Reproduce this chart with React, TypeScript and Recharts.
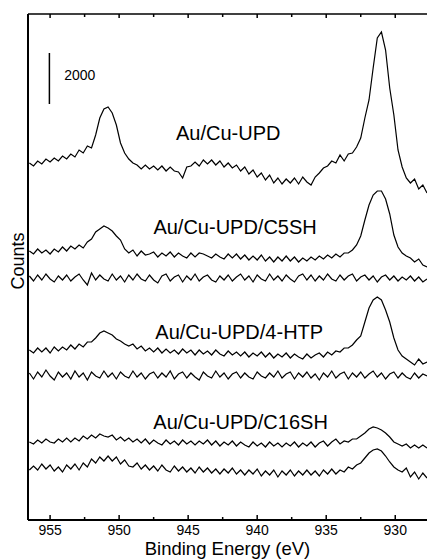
import { LineChart, Line, XAxis, YAxis, ReferenceLine, ReferenceDot, Label } from 'recharts';

// binding energy grid (eV), 0.3 eV steps from 956.5 down to 927.7
const energies = Array.from({ length: 97 }, (_, i) => +(956.5 - 0.3 * i).toFixed(1));

// counts, offset per spectrum (1 unit ~ 39 counts)
const auCuUpd = [
  356, 353, 358, 355, 360, 357, 361, 358, 363, 360,
  365, 362, 369, 366, 373, 371, 384, 401, 410, 412,
  406, 394, 376, 366, 360, 356, 354, 350, 354, 350,
  353, 349, 353, 348, 352, 348, 347, 341, 352, 353,
  357, 353, 359, 355, 359, 354, 358, 352, 356, 351,
  354, 348, 352, 345, 349, 342, 346, 339, 344, 336,
  341, 335, 340, 336, 341, 335, 342, 337, 334, 342,
  346, 351, 353, 358, 356, 364, 358, 365, 366, 372,
  381, 401, 419, 451, 481, 487, 469, 431, 404, 369,
  352, 341, 336, 340, 330, 334, 326,
];
const c5sh = [
  268, 265, 270, 266, 269, 265, 270, 267, 272, 268,
  273, 270, 274, 271, 277, 280, 287, 290, 293, 291,
  288, 283, 279, 270, 266, 269, 263, 268, 264, 265,
  267, 262, 266, 263, 267, 262, 266, 263, 261, 266,
  262, 266, 265, 263, 261, 265, 262, 260, 265, 261,
  265, 260, 264, 259, 263, 259, 264, 258, 262, 257,
  262, 258, 263, 258, 262, 257, 261, 258, 262, 259,
  263, 260, 264, 261, 265, 262, 266, 266, 269, 274,
  283, 299, 314, 324, 328, 328, 320, 305, 284, 272,
  266, 263, 261, 257, 260, 254, 252,
];
const c5shBlank = [
  243, 238, 244, 239, 245, 240, 237, 243, 239, 244,
  238, 242, 245, 239, 234, 246, 239, 244, 240, 238,
  245, 239, 243, 237, 244, 239, 245, 240, 238, 244,
  239, 236, 243, 245, 238, 242, 244, 237, 243, 239,
  245, 238, 242, 244, 239, 237, 243, 239, 244, 238,
  242, 245, 239, 243, 237, 244, 240, 238, 245, 239,
  243, 238, 244, 240, 237, 243, 245, 239, 244, 238,
  243, 239, 245, 240, 238, 244, 239, 243, 245, 238,
  242, 244, 239, 243, 237, 242, 244, 239, 243, 238,
  242, 239, 243, 238, 242, 237, 240,
];
const htp = [
  169, 166, 171, 167, 171, 166, 172, 168, 172, 169,
  174, 170, 175, 172, 177, 177, 181, 186, 188, 186,
  184, 180, 178, 175, 173, 175, 170, 173, 168, 171,
  167, 171, 166, 170, 166, 169, 165, 170, 166, 169,
  164, 169, 165, 168, 164, 169, 165, 163, 168, 164,
  167, 163, 167, 162, 166, 163, 167, 162, 166, 161,
  165, 162, 166, 161, 165, 162, 160, 165, 161, 164,
  166, 162, 167, 164, 168, 167, 171, 171, 174, 179,
  183, 197, 211, 219, 222, 219, 209, 197, 181, 169,
  163, 160, 157, 154, 160, 155, 157,
];
const htpBlank = [
  146, 140, 147, 142, 149, 143, 139, 147, 142, 146,
  140, 148, 142, 146, 139, 147, 143, 141, 148, 142,
  146, 140, 147, 143, 141, 148, 142, 146, 140, 145,
  147, 141, 146, 142, 148, 140, 145, 147, 141, 146,
  142, 139, 147, 143, 141, 148, 142, 146, 140, 145,
  147, 141, 146, 142, 140, 147, 143, 141, 146, 142,
  148, 141, 145, 147, 140, 146, 142, 147, 141, 145,
  139, 146, 142, 148, 141, 145, 147, 140, 146, 142,
  147, 141, 145, 148, 142, 146, 140, 145, 147, 141,
  146, 142, 140, 146, 141, 145, 143,
];
const c16sh = [
  77, 75, 79, 76, 80, 77, 76, 80, 77, 81,
  77, 81, 78, 83, 80, 84, 81, 85, 83, 82,
  84, 79, 82, 78, 81, 77, 80, 76, 80, 75,
  79, 76, 74, 79, 75, 78, 74, 79, 75, 78,
  74, 78, 75, 79, 74, 78, 73, 77, 74, 78,
  73, 77, 74, 72, 77, 73, 76, 72, 77, 73,
  76, 72, 76, 73, 77, 72, 76, 73, 77, 72,
  76, 78, 73, 77, 80, 75, 78, 77, 80, 80,
  83, 86, 90, 92, 91, 89, 86, 82, 77, 75,
  73, 75, 71, 74, 71, 74, 71,
];
const c16shBlank = [
  49, 53, 49, 55, 50, 54, 48, 52, 47, 54,
  50, 55, 49, 56, 52, 60, 56, 62, 58, 63,
  58, 62, 55, 59, 53, 52, 56, 50, 54, 49,
  53, 48, 54, 49, 47, 53, 48, 52, 47, 51,
  46, 52, 47, 51, 46, 50, 45, 50, 46, 51,
  45, 49, 44, 49, 45, 50, 43, 48, 44, 49,
  42, 48, 44, 49, 43, 48, 44, 49, 44, 48,
  43, 49, 45, 50, 45, 49, 47, 52, 50, 54,
  56, 61, 66, 69, 70, 68, 63, 57, 52, 49,
  47, 51, 42, 47, 40, 46, 41,
];

const majorTicks = [955, 950, 945, 940, 935, 930];
const allTicks = [955, 952.5, 950, 947.5, 945, 942.5, 940, 937.5, 935, 932.5, 930];

const series = [auCuUpd, c5sh, c5shBlank, htp, htpBlank, c16sh, c16shBlank];
const data = energies.map((e, i) => {
  const row: Record<string, number> = { e };
  series.forEach((s, k) => { row['s' + k] = s[i]; });
  return row;
});

const font = '"Liberation Sans", Arial, Helvetica, sans-serif';

const BottomTick = (props: any) => {
  const { x, y, payload } = props;
  const major = majorTicks.includes(payload.value);
  return (
    <g>
      <line x1={x} x2={x} y1={y} y2={y - (major ? 5 : 3)} stroke="#000" strokeWidth={1.5} />
      {major && (
        <text x={x} y={y + 15} textAnchor="middle" fontSize={14} fontFamily={font} fill="#000">
          {payload.value}
        </text>
      )}
    </g>
  );
};

const TopTick = (props: any) => {
  const { x, y, payload } = props;
  const major = majorTicks.includes(payload.value);
  return <line x1={x} x2={x} y1={y} y2={y + (major ? 4 : 3)} stroke="#000" strokeWidth={1.5} />;
};

const sampleLabel = (value: string) => ({ value, position: 'center' as const, fontSize: 20, fill: '#000', fontFamily: font });

export default function App() {
  return (
    <div>
      <style>{'body{margin:0}'}</style>
      <LineChart width={427} height={559} data={data} margin={{ top: 13, right: 0, left: 26, bottom: 0 }} style={{ fontFamily: font }}>
        <XAxis
          dataKey="e"
          type="number"
          domain={[927.7, 956.6]}
          reversed
          allowDataOverflow
          ticks={allTicks}
          interval={0}
          tick={BottomTick}
          tickLine={false}
          tickSize={0}
          tickMargin={0}
          height={39}
          axisLine={{ stroke: '#000', strokeWidth: 2 }}
        >
          <Label
            content={() => (
              <text x={227.5} y={555} textAnchor="middle" fontSize={18.5} fontFamily={font} fill="#000">
                Binding Energy (eV)
              </text>
            )}
          />
        </XAxis>
        <XAxis
          xAxisId="top"
          orientation="top"
          dataKey="e"
          type="number"
          domain={[927.7, 956.6]}
          reversed
          allowDataOverflow
          ticks={allTicks}
          interval={0}
          tick={TopTick}
          tickLine={false}
          tickSize={0}
          tickMargin={0}
          height={1}
          axisLine={{ stroke: '#000', strokeWidth: 1.5 }}
        />
        <YAxis
          type="number"
          domain={[-1, 505]}
          allowDataOverflow
          width={2}
          tick={false}
          tickLine={false}
          axisLine={{ stroke: '#000', strokeWidth: 2 }}
        >
          <Label
            content={() => (
              <text x={18} y={261} transform="rotate(-90, 18, 261)" textAnchor="middle" dominantBaseline="central" fontSize={18} fontFamily={font} fill="#000">
                Counts
              </text>
            )}
          />
        </YAxis>

        {series.map((_, k) => (
          <Line key={k} type="linear" dataKey={'s' + k} stroke="#000" strokeWidth={1.2} dot={false} isAnimationActive={false} />
        ))}

        <ReferenceLine segment={[{ x: 955.05, y: 415 }, { x: 955.05, y: 466 }]} stroke="#000" strokeWidth={1.5} />
        <ReferenceDot x={952.85} y={444} r={0} stroke="none" fill="none" label={{ value: '2000', position: 'center', fontSize: 14, fill: '#000', fontFamily: font }} />

        <ReferenceDot x={942.1} y={386} r={0} stroke="none" fill="none" label={sampleLabel('Au/Cu-UPD')} />
        <ReferenceDot x={941.6} y={292} r={0} stroke="none" fill="none" label={sampleLabel('Au/Cu-UPD/C5SH')} />
        <ReferenceDot x={941.3} y={187} r={0} stroke="none" fill="none" label={sampleLabel('Au/Cu-UPD/4-HTP')} />
        <ReferenceDot x={941.2} y={97} r={0} stroke="none" fill="none" label={sampleLabel('Au/Cu-UPD/C16SH')} />
      </LineChart>
    </div>
  );
}
